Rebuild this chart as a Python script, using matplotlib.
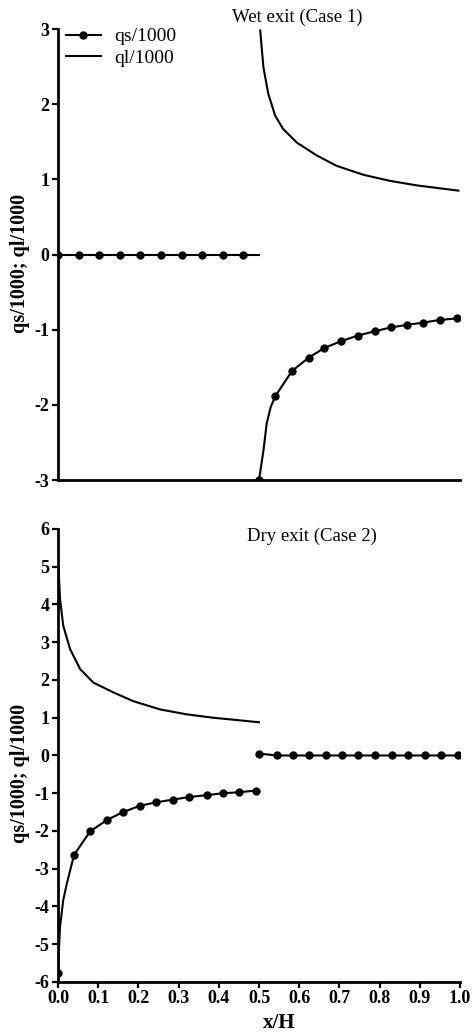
import matplotlib.pyplot as plt

plt.rcParams['font.family'] = ['Liberation Serif', 'DejaVu Serif']
plt.rcParams['font.size'] = 11
plt.rcParams['axes.unicode_minus'] = False

# Case 1: wet exit
wet_qs_flat_x = [0.0, 0.051, 0.103, 0.154, 0.205, 0.256, 0.308, 0.359, 0.41, 0.461, 0.5]
wet_qs_flat_y = [0.0, 0.0, 0.0, 0.0, 0.0, 0.0, 0.0, 0.0, 0.0, 0.0, 0.0]
wet_qs_x = [0.5, 0.511, 0.519, 0.529, 0.541, 0.582, 0.624, 0.662, 0.705, 0.745,
            0.788, 0.828, 0.869, 0.909, 0.949, 0.993]
wet_qs_y = [-3.0, -2.61, -2.25, -2.03, -1.88, -1.55, -1.37, -1.245, -1.15, -1.08,
            -1.02, -0.97, -0.935, -0.905, -0.87, -0.85]
wet_ql_x = [0.503, 0.511, 0.523, 0.54, 0.56, 0.594, 0.643, 0.693, 0.76, 0.826, 0.892, 0.996]
wet_ql_y = [2.98, 2.49, 2.14, 1.85, 1.67, 1.49, 1.32, 1.18, 1.06, 0.98, 0.92, 0.85]

# Case 2: dry exit
dry_qs_x = [0.0, 0.002, 0.005, 0.013, 0.022, 0.04, 0.08, 0.123, 0.162, 0.204, 0.245,
            0.285, 0.327, 0.37, 0.41, 0.449, 0.492]
dry_qs_y = [-5.76, -5.2, -4.54, -3.83, -3.39, -2.63, -2.01, -1.70, -1.50, -1.33, -1.24,
            -1.17, -1.10, -1.05, -1.00, -0.975, -0.93]
dry_qs_flat_x = [0.5, 0.544, 0.585, 0.625, 0.666, 0.707, 0.747, 0.789, 0.83, 0.871,
                 0.913, 0.953, 0.994]
dry_qs_flat_y = [0.05, 0.0, 0.0, 0.0, 0.0, 0.0, 0.0, 0.0, 0.0, 0.0, 0.0, 0.0, 0.0]
dry_ql_x = [0.0, 0.003, 0.005, 0.013, 0.03, 0.055, 0.088, 0.138, 0.187, 0.254, 0.32,
            0.386, 0.453, 0.5]
dry_ql_y = [5.26, 4.6, 4.15, 3.44, 2.82, 2.29, 1.93, 1.67, 1.44, 1.22, 1.09, 1.0, 0.93, 0.88]

x_ticks = [0.0, 0.1, 0.2, 0.3, 0.4, 0.5, 0.6, 0.7, 0.8, 0.9, 1.0]

fig = plt.figure(figsize=(4.72, 10.33), dpi=100)
ax1 = fig.add_axes([0.1229, 0.5353, 0.8517, 0.4366])
ax2 = fig.add_axes([0.1229, 0.0494, 0.8517, 0.4385])

line_kw = dict(color='black', lw=1.5)
mark_kw = dict(color='black', lw=1.5, marker='o', markersize=5)


def style_axes(ax, ylim, yticks):
    ax.set_xlim(0, 1)
    ax.set_ylim(*ylim)
    ax.set_yticks(yticks)
    ax.spines['top'].set_visible(False)
    ax.spines['right'].set_visible(False)
    for s in ('left', 'bottom'):
        ax.spines[s].set_linewidth(2)
    ax.tick_params(width=1.6, length=4, direction='out', pad=2)
    for lab in ax.get_yticklabels() + ax.get_xticklabels():
        lab.set_fontweight('bold')
        lab.set_fontsize(13)
    ax.set_ylabel('qs/1000; ql/1000', fontweight='bold', fontsize=14.5)


# wet exit
ax1.plot(wet_qs_flat_x, wet_qs_flat_y, markevery=list(range(10)), label='qs/1000', **mark_kw)
ax1.plot(wet_qs_x, wet_qs_y, markevery=[0] + list(range(4, len(wet_qs_x))), **mark_kw)
ax1.plot(wet_ql_x, wet_ql_y, label='ql/1000', **line_kw)
style_axes(ax1, (-3, 3), [-3, -2, -1, 0, 1, 2, 3])
ax1.set_xticks([])
ax1.yaxis.set_label_coords(-0.07, 0.48)
ax1.text(0.433, 3.15, 'Wet exit (Case 1)', fontsize=13.5, va='center', clip_on=False)
leg = ax1.legend(loc='upper left', bbox_to_anchor=(0.0, 1.02), frameon=False,
                 handlelength=1.8, handletextpad=0.7, labelspacing=0.2,
                 borderaxespad=0, fontsize=14)

# dry exit
ax2.plot(dry_qs_x, dry_qs_y, markevery=[0] + list(range(5, len(dry_qs_x))), **mark_kw)
ax2.plot(dry_qs_flat_x, dry_qs_flat_y, **mark_kw)
ax2.plot(dry_ql_x, dry_ql_y, **line_kw)
ax2.set_xticks(x_ticks)
ax2.set_xticklabels(['%.1f' % v for v in x_ticks])
style_axes(ax2, (-6, 6), list(range(-6, 7)))
ax2.yaxis.set_label_coords(-0.07, 0.46)
ax2.text(0.47, 5.8, 'Dry exit (Case 2)', fontsize=13.5, va='center')
ax2.set_xlabel('x/H', fontweight='bold', fontsize=15)
ax2.xaxis.set_label_coords(0.55, -0.068)

fig.savefig('out.png', dpi=100)
